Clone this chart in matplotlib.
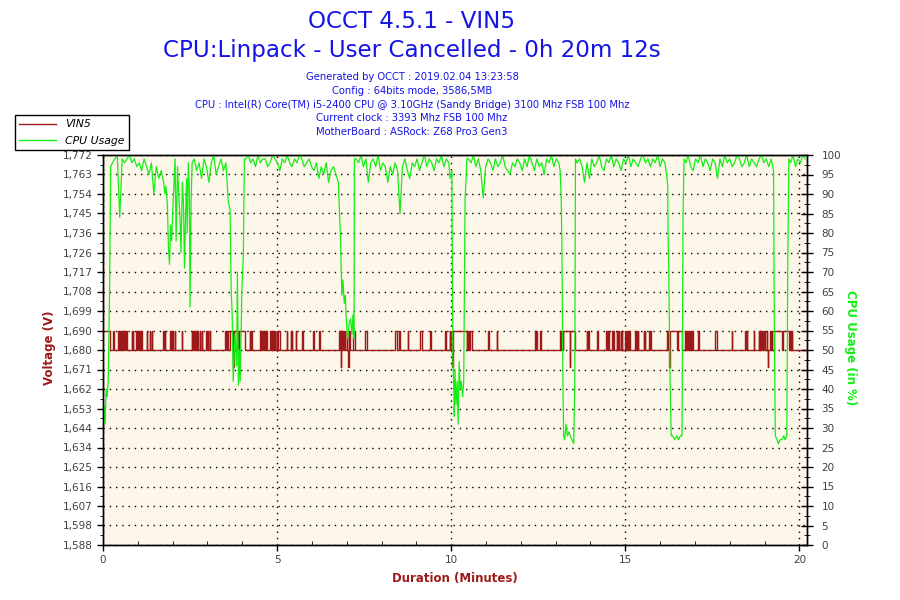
import matplotlib
matplotlib.use("Agg")
import matplotlib.pyplot as plt
from matplotlib.ticker import FixedLocator, MultipleLocator

# OCCT sensor report: VIN5 voltage and CPU usage over a Linpack run
RUN_END = 20.22  # minutes (0h 20m 12s)

# voltage levels seen in the log
VOLT_LOW = 1.680
VOLT_HIGH = 1.689
VOLT_DIP = 1.672

volt_labels = ["1,588", "1,598", "1,607", "1,616", "1,625", "1,634", "1,644",
               "1,653", "1,662", "1,671", "1,680", "1,690", "1,699", "1,708",
               "1,717", "1,726", "1,736", "1,745", "1,754", "1,763", "1,772"]

# time spans (minutes) where VIN5 sits at the upper level
volt_high = [
    (0.00, 0.20), (0.30, 0.31), (0.44, 0.46), (0.47, 0.50), (0.51, 0.53),
    (0.54, 0.57), (0.58, 0.60), (0.61, 0.64), (0.65, 0.68), (0.82, 0.84),
    (0.85, 0.87), (0.95, 0.97), (0.98, 1.00), (1.01, 1.03), (1.05, 1.07),
    (1.09, 1.11), (1.25, 1.26), (1.35, 1.36), (1.40, 1.41), (1.73, 1.75),
    (1.77, 1.78), (1.93, 1.94), (1.97, 1.98), (1.99, 2.00), (2.07, 2.08),
    (2.26, 2.28), (2.55, 2.57), (2.58, 2.61), (2.62, 2.64), (2.66, 2.68),
    (2.70, 2.72), (2.73, 2.74), (2.79, 2.80), (2.84, 2.85), (2.96, 2.98),
    (3.01, 3.03), (3.07, 3.08), (3.51, 3.53), (3.56, 3.60), (3.65, 3.72),
    (3.75, 3.86), (3.88, 4.08), (4.22, 4.23), (4.26, 4.27), (4.51, 4.53),
    (4.55, 4.57), (4.59, 4.61), (4.63, 4.65), (4.68, 4.70), (4.80, 4.82),
    (4.84, 4.85), (4.89, 4.91), (4.93, 4.94), (4.99, 5.01), (5.04, 5.09),
    (5.28, 5.29), (5.40, 5.41), (5.43, 5.44), (5.54, 5.55), (5.71, 5.74),
    (6.04, 6.05), (6.21, 6.24), (6.78, 6.80), (6.81, 6.86), (6.87, 6.90),
    (6.92, 6.95), (7.00, 7.02), (7.06, 7.08), (7.18, 7.24), (7.53, 7.58),
    (8.39, 8.44), (8.51, 8.53), (8.75, 8.76), (9.11, 9.16), (9.40, 9.41),
    (9.83, 9.84), (9.97, 9.98), (10.02, 10.45), (10.46, 10.48), (10.50, 10.52),
    (10.55, 10.59), (11.07, 11.09), (11.31, 11.32), (12.41, 12.43), (12.45, 12.46),
    (12.56, 12.57), (13.13, 13.15), (13.17, 13.20), (13.22, 13.56), (13.90, 13.91),
    (13.94, 13.95), (14.20, 14.23), (14.45, 14.47), (14.50, 14.52), (14.62, 14.64),
    (14.66, 14.68), (14.76, 14.77), (14.80, 14.81), (14.88, 14.89), (14.91, 14.92),
    (15.00, 15.02), (15.04, 15.06), (15.08, 15.11), (15.12, 15.14), (15.29, 15.31),
    (15.33, 15.35), (15.36, 15.38), (15.53, 15.54), (15.56, 15.57), (15.69, 15.70),
    (15.72, 15.74), (16.20, 16.22), (16.24, 16.48), (16.51, 16.63), (16.72, 16.74),
    (16.78, 16.80), (16.82, 16.84), (16.86, 16.89), (16.92, 16.94), (17.09, 17.11),
    (17.59, 17.63), (18.07, 18.08), (18.45, 18.46), (18.49, 18.50), (18.69, 18.70),
    (18.83, 18.85), (18.87, 18.89), (18.90, 18.93), (18.95, 18.97), (18.99, 19.02),
    (19.07, 19.08), (19.17, 19.18), (19.20, 19.21), (19.26, 19.49), (19.52, 19.69),
    (19.74, 19.75), (19.78, 19.79),
]
# short drops to the lower reading
volt_dips = [3.74, 3.90, 6.84, 7.05, 10.03, 13.40, 16.27, 19.10]

# CPU usage (%), steady parts sampled every STEADY_STEP minutes
STEADY_STEP = 0.07
steady_1 = (0.27, [98, 99, 100, 84, 99, 98, 99, 100, 98, 99, 97, 98, 96, 99, 97,
                   95, 98, 90, 97, 94, 96, 93])
steady_2 = (2.62, [99, 96, 98, 94, 99, 97, 93, 98, 100, 95, 97, 99, 96, 98])
steady_3 = (4.10, [99, 100, 98, 99, 97, 100, 98, 99, 99, 97, 98, 100, 99, 98, 96,
                   99, 98, 100, 98, 97, 99, 98, 100, 99, 97, 98, 99, 97, 96, 98,
                   94, 97, 95, 98, 93, 96, 97, 95])
steady_4 = (7.27, [99, 98, 100, 97, 99, 93, 98, 99, 97, 100, 96, 98, 97, 93, 97,
                   95, 98, 96, 85, 97, 99, 96, 94, 98, 97, 99, 96, 98, 100, 97,
                   99, 98, 96, 99, 98, 100, 97, 99, 98])
steady_5 = (10.50, [99, 98, 100, 97, 99, 96, 89, 97, 99, 98, 96, 99, 97, 98, 100,
                    97, 96, 95, 98, 97, 99, 98, 96, 99, 97, 100, 98, 96, 99, 97,
                    98, 95, 99, 98, 100, 97, 99, 98])
steady_6 = (13.62, [98, 99, 97, 93, 98, 94, 99, 97, 98, 100, 97, 96, 99, 98, 100,
                    97, 99, 98, 96, 99, 98, 100, 97, 99, 98, 97, 99, 100, 98, 99,
                    97, 99, 98, 100, 97, 99, 98])
steady_7 = (16.74, [98, 100, 97, 96, 99, 98, 100, 97, 99, 98, 96, 99, 98, 94, 99,
                    97, 100, 98, 99, 97, 98, 100, 99, 97, 98, 100, 97, 99, 98, 97,
                    99, 100, 98, 99, 97, 99])
steady_8 = (19.75, [98, 100, 97, 99, 98, 100, 99])

# CPU usage around the load drops: (minute, %)
drop_0 = [(0.00, 28), (0.03, 36), (0.06, 31), (0.09, 40), (0.12, 38), (0.15, 42),
          (0.19, 66), (0.22, 97)]
drop_1 = [(1.78, 90), (1.81, 92), (1.85, 87), (1.88, 76), (1.91, 72), (1.94, 82),
          (1.97, 78), (2.02, 89), (2.07, 99), (2.10, 78), (2.14, 97), (2.17, 91),
          (2.21, 84), (2.24, 75), (2.28, 93), (2.31, 88), (2.34, 71), (2.37, 84),
          (2.40, 94), (2.42, 80), (2.45, 98), (2.48, 91), (2.50, 61), (2.53, 88),
          (2.56, 98)]
drop_2 = [(3.60, 88), (3.65, 86), (3.68, 66), (3.71, 59), (3.74, 42), (3.79, 54),
          (3.84, 46), (3.86, 70), (3.89, 41), (3.92, 50), (3.94, 42), (3.99, 66),
          (4.03, 74), (4.06, 99)]
drop_3 = [(6.76, 93), (6.79, 86), (6.82, 79), (6.86, 64), (6.89, 68), (6.93, 62),
          (6.96, 64), (6.98, 59), (7.00, 56), (7.03, 53), (7.07, 57), (7.11, 58),
          (7.15, 54), (7.18, 59), (7.21, 53), (7.22, 99)]
drop_4 = [(9.97, 94), (10.02, 96), (10.05, 47), (10.08, 39), (10.09, 33), (10.11, 45),
          (10.14, 36), (10.17, 42), (10.20, 31), (10.23, 47), (10.26, 40), (10.29, 42),
          (10.33, 38), (10.36, 42), (10.38, 66), (10.40, 89), (10.43, 94), (10.45, 99)]
drop_5 = [(13.13, 96), (13.16, 89), (13.18, 77), (13.21, 41), (13.23, 28), (13.26, 27),
          (13.30, 31), (13.34, 28), (13.38, 29), (13.42, 28), (13.47, 27), (13.52, 26),
          (13.55, 42), (13.57, 99)]
drop_6 = [(16.20, 94), (16.22, 92), (16.23, 80), (16.25, 70), (16.27, 54), (16.29, 41),
          (16.32, 28), (16.36, 28), (16.42, 27), (16.48, 28), (16.53, 27), (16.58, 28),
          (16.63, 28), (16.66, 85), (16.69, 99)]
drop_7 = [(19.26, 96), (19.28, 58), (19.31, 28), (19.36, 27), (19.40, 26), (19.45, 27),
          (19.50, 27), (19.55, 28), (19.59, 27), (19.64, 28), (19.67, 75), (19.70, 99)]

header_lines = [
    "Generated by OCCT : 2019.02.04 13:23:58",
    "Config : 64bits mode, 3586,5MB",
    "CPU : Intel(R) Core(TM) i5-2400 CPU @ 3.10GHz (Sandy Bridge) 3100 Mhz FSB 100 Mhz",
    "Current clock : 3393 Mhz FSB 100 Mhz",
    "MotherBoard : ASRock: Z68 Pro3 Gen3",
]

RED = "#9e1a1a"
GREEN = "#14ee14"
BLUE = "#1414e6"
TICK_COLOR = "#404040"


def steady_points(part):
    t0, values = part
    return [(t0 + k * STEADY_STEP, v) for k, v in enumerate(values)]


def volt_level(t):
    for start, end in volt_high:
        if start <= t < end:
            return VOLT_HIGH
    return VOLT_LOW


# build the CPU trace in time order
cpu_points = []
for piece in [drop_0, steady_points(steady_1), drop_1, steady_points(steady_2),
              drop_2, steady_points(steady_3), drop_3, steady_points(steady_4),
              drop_4, steady_points(steady_5), drop_5, steady_points(steady_6),
              drop_6, steady_points(steady_7), drop_7, steady_points(steady_8)]:
    cpu_points.extend(piece)
cpu_time = [p[0] for p in cpu_points]
cpu_usage = [p[1] for p in cpu_points]

# build the voltage step trace from its change points
events = []
for start, end in volt_high:
    events.append((start, VOLT_HIGH))
    events.append((end, VOLT_LOW))
for d in volt_dips:
    events.append((d, VOLT_DIP))
    events.append((d + 0.01, volt_level(d + 0.01)))
events.sort()
volt_time = [e[0] for e in events] + [RUN_END]
volt_value = [e[1] for e in events] + [VOLT_LOW]

fig = plt.figure(figsize=(9, 6), dpi=100)
ax = fig.add_axes([103 / 900, 55 / 600, 704 / 900, 390 / 600])
ax.set_facecolor("#fdf7e9")

ax.plot(volt_time, volt_value, drawstyle="steps-post", color=RED, lw=1.0)
ax.set_xlim(0, RUN_END)
ax.set_ylim(1.588, 1.772)
volt_ticks = [1.588 + 0.0092 * k for k in range(21)]
ax.yaxis.set_major_locator(FixedLocator(volt_ticks))
ax.set_yticklabels(volt_labels)
ax.yaxis.set_minor_locator(FixedLocator([v + 0.0046 for v in volt_ticks[:-1]]))
ax.xaxis.set_major_locator(FixedLocator([0, 5, 10, 15, 20]))
ax.xaxis.set_minor_locator(MultipleLocator(1))
ax.grid(True, which="major", color="black", linestyle=(0, (1, 3.5)), lw=1)
ax.tick_params(axis="both", which="major", labelsize=7.5, labelcolor=TICK_COLOR,
               direction="out", length=4, width=1)
ax.tick_params(axis="y", which="minor", direction="out", length=2.5)
ax.tick_params(axis="x", which="minor", direction="in", length=3)

ax2 = ax.twinx()
ax2.plot(cpu_time, cpu_usage, color=GREEN, lw=0.9)
ax2.set_ylim(0, 100)
ax2.yaxis.set_major_locator(MultipleLocator(5))
ax2.yaxis.set_minor_locator(MultipleLocator(2.5))
ax2.tick_params(axis="y", which="major", direction="inout", length=9, width=1,
                labelsize=7.5, labelcolor=TICK_COLOR, pad=6)
ax2.tick_params(axis="y", which="minor", direction="inout", length=5)

for a in (ax, ax2):
    for s in a.spines.values():
        s.set_color("black")
        s.set_linewidth(1)

ax.set_xlabel("Duration (Minutes)", color=RED, fontsize=8.5, fontweight="bold", labelpad=5)
fig.text(50 / 900, 1 - 348 / 600, "Voltage (V)", color=RED, fontsize=8.5,
         fontweight="bold", rotation=90, ha="center", va="center")
fig.text(850 / 900, 1 - 348 / 600, "CPU Usage (in %)", color=GREEN, fontsize=8.5,
         fontweight="bold", rotation=-90, ha="center", va="center")

fig.text(412 / 900, 1 - 21 / 600, "OCCT 4.5.1 - VIN5", color=BLUE, fontsize=16.6,
         ha="center", va="center")
fig.text(412 / 900, 1 - 51 / 600, "CPU:Linpack - User Cancelled - 0h 20m 12s",
         color=BLUE, fontsize=16.6, ha="center", va="center")
for k, line in enumerate(header_lines):
    fig.text(412 / 900, 1 - (77 + 13.8 * k) / 600, line, color=BLUE, fontsize=7.2,
             ha="center", va="center")

handles = [plt.Line2D([], [], color=RED, lw=1), plt.Line2D([], [], color=GREEN, lw=1)]
leg = fig.legend(handles, ["VIN5", "CPU Usage"], loc="upper left",
                 bbox_to_anchor=(15 / 900, 1 - 115 / 600), borderaxespad=0,
                 prop={"style": "italic", "size": 7.8}, handlelength=3.4,
                 fancybox=False, framealpha=1, edgecolor="black",
                 borderpad=0.4, labelspacing=0.6, handletextpad=0.8)
leg.get_frame().set_linewidth(1)

fig.savefig("out.png", dpi=100)
